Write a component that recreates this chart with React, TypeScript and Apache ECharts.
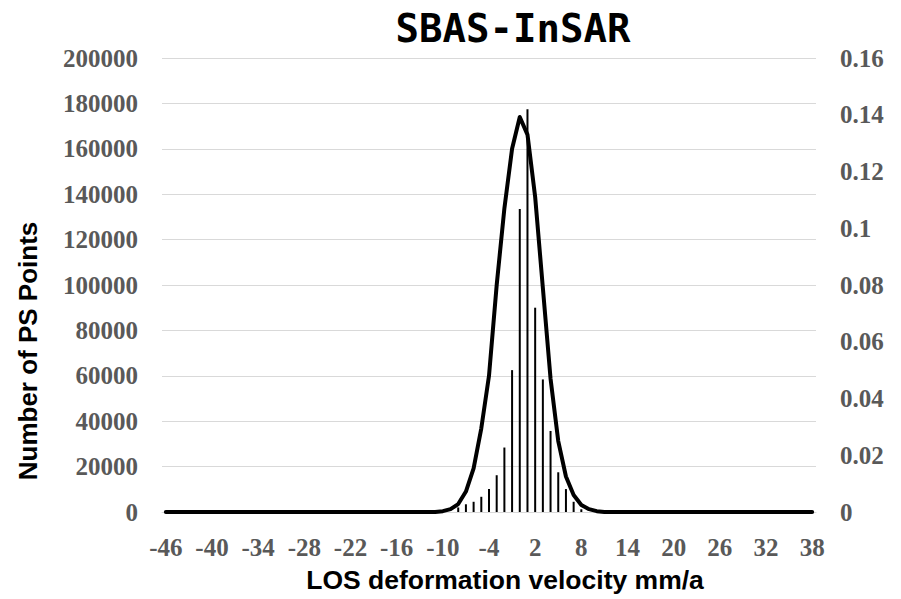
import React, { useEffect, useRef } from "react";
import * as echarts from "echarts";

const categories: string[] = [
  "-46","-45","-44","-43","-42","-41","-40","-39","-38","-37",
  "-36","-35","-34","-33","-32","-31","-30","-29","-28","-27",
  "-26","-25","-24","-23","-22","-21","-20","-19","-18","-17",
  "-16","-15","-14","-13","-12","-11","-10","-9","-8","-7",
  "-6","-5","-4","-3","-2","-1","0","1","2","3",
  "4","5","6","7","8","9","10","11","12","13",
  "14","15","16","17","18","19","20","21","22","23",
  "24","25","26","27","28","29","30","31","32","33",
  "34","35","36","37","38",
];

// Number of PS points per 1 mm/a bin (left axis)
const pointCounts: number[] = [
  0,0,0,0,0,0,0,0,0,0,
  0,0,0,0,0,0,0,0,0,0,
  0,0,0,0,0,0,0,0,0,0,
  0,0,0,0,0,0,0,0,2000,3400,
  4500,6700,10100,16200,28400,62500,133500,177400,90000,58400,
  35700,17500,10100,4500,1200,0,0,0,0,0,
  0,0,0,0,0,0,0,0,0,0,
  0,0,0,0,0,0,0,0,0,0,
  0,0,0,0,0,
];

// Fitted probability density (right axis)
const density: number[] = [
  0,0,0,0,0,0,0,0,0,0,
  0,0,0,0,0,0,0,0,0,0,
  0,0,0,0,0,0,0,0,0,0,
  0,0,0,0,0,0,0.0003,0.001,0.0028,0.0072,
  0.0154,0.0295,0.048,0.08,0.107,0.128,0.1392,0.133,0.111,0.079,
  0.047,0.025,0.0125,0.006,0.0025,0.001,0.0003,0,0,0,
  0,0,0,0,0,0,0,0,0,0,
  0,0,0,0,0,0,0,0,0,0,
  0,0,0,0,0,
];

const titleText = "SBAS-InSAR";
const xName = "LOS deformation velocity mm/a";
const yName = "Number of PS Points";

const labelFont = {
  fontFamily: "Liberation Serif",
  fontWeight: "bold" as const,
  color: "#595959",
};

export default function App() {
  const ref = useRef<HTMLDivElement>(null);
  useEffect(() => {
    if (!ref.current) return;
    const chart = echarts.init(ref.current, null, { renderer: "svg" });
    chart.setOption({
      animation: false,
      backgroundColor: "#ffffff",
      grid: { left: 162, right: 85, top: 58, bottom: 87, containLabel: false },
      graphic: [
        {
          type: "text",
          x: 513,
          y: 28,
          style: {
            text: titleText,
            fontFamily: "DejaVu Sans Mono",
            fontSize: 39,
            fontWeight: "bold",
            fill: "#000",
            align: "center",
            verticalAlign: "middle",
          },
        },
        {
          type: "text",
          x: 505,
          y: 580,
          style: {
            text: xName,
            fontFamily: "Liberation Sans",
            fontSize: 26.5,
            fontWeight: "bold",
            fill: "#000",
            align: "center",
            verticalAlign: "middle",
          },
        },
        {
          type: "text",
          x: 28,
          y: 351,
          rotation: Math.PI / 2,
          style: {
            text: yName,
            fontFamily: "Liberation Sans",
            fontSize: 26,
            fontWeight: "bold",
            fill: "#000",
            align: "center",
            verticalAlign: "middle",
          },
        },
      ],
      xAxis: {
        type: "category",
        data: categories,
        boundaryGap: true,
        axisTick: { show: false },
        axisLine: { lineStyle: { color: "#d9d9d9", width: 1 } },
        axisLabel: { ...labelFont, fontSize: 25, interval: 5, margin: 23 },
      },
      yAxis: [
        {
          type: "value",
          min: 0,
          max: 200000,
          interval: 20000,
          axisLine: { show: false },
          axisTick: { show: false },
          splitLine: { lineStyle: { color: "#d9d9d9", width: 1 } },
          axisLabel: { ...labelFont, fontSize: 25, margin: 24, formatter: (v: number) => String(v) },
        },
        {
          type: "value",
          min: 0,
          max: 0.16,
          interval: 0.02,
          axisLine: { show: false },
          axisTick: { show: false },
          splitLine: { show: false },
          axisLabel: {
            ...labelFont,
            fontSize: 25,
            margin: 24,
            formatter: (v: number) => String(Math.round(v * 100) / 100),
          },
        },
      ],
      series: [
        {
          type: "bar",
          data: pointCounts,
          yAxisIndex: 0,
          barWidth: 2,
          itemStyle: { color: "#000" },
          z: 2,
        },
        {
          type: "line",
          data: density,
          yAxisIndex: 1,
          symbol: "none",
          lineStyle: { color: "#000", width: 4, join: "round", cap: "round" },
          z: 3,
        },
      ],
    });
    return () => chart.dispose();
  }, []);
  return (
    <div
      ref={ref}
      style={{ position: "absolute", left: 0, top: 0, width: 901, height: 599 }}
    />
  );
}
